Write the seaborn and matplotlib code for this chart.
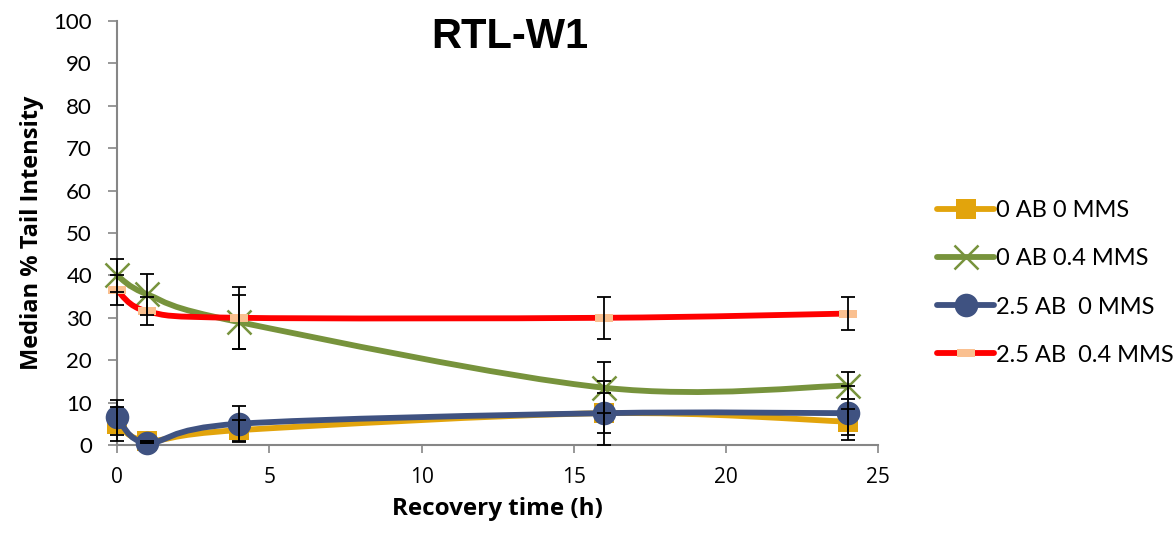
import numpy as np
import pandas as pd
import matplotlib
matplotlib.use('Agg')
import matplotlib.pyplot as plt
import seaborn as sns
from matplotlib.path import Path
from matplotlib.patches import PathPatch
from matplotlib.lines import Line2D

# recovery time (h)
hours = [0, 1, 4, 16, 24]

series_names = ['0 AB 0 MMS', '0 AB 0.4 MMS', '2.5 AB  0 MMS', '2.5 AB  0.4 MMS']

# median % tail intensity
ab0_mms0 = [5.0, 1.0, 3.5, 7.5, 5.5]
ab0_mms04 = [40.0, 35.5, 29.0, 13.5, 14.0]
ab25_mms0 = [6.5, 0.5, 5.0, 7.5, 7.5]
ab25_mms04 = [36.5, 31.5, 30.0, 30.0, 31.0]

# error bars (+/-)
err_ab0_mms0 = [4.0, 0.0, 2.5, 7.5, 3.1]
err_ab0_mms04 = [3.8, 4.9, 6.3, 6.0, 3.2]
err_ab25_mms0 = [4.1, 0.0, 4.2, 4.7, 6.4]
err_ab25_mms04 = [3.5, 3.3, 7.3, 5.0, 3.9]

rows = []
for name, vals, errs in zip(series_names,
                            [ab0_mms0, ab0_mms04, ab25_mms0, ab25_mms04],
                            [err_ab0_mms0, err_ab0_mms04, err_ab25_mms0, err_ab25_mms04]):
    for h, v, e in zip(hours, vals, errs):
        rows.append({'hours': h, 'value': v, 'err': e, 'group': name})
df = pd.DataFrame(rows)

colors = {'0 AB 0 MMS': '#E2A40C', '0 AB 0.4 MMS': '#77933C',
          '2.5 AB  0 MMS': '#3F5281', '2.5 AB  0.4 MMS': '#FF0000'}
dash = Path([(-1, -0.45), (1, -0.45), (1, 0.45), (-1, 0.45), (-1, -0.45)],
            [Path.MOVETO, Path.LINETO, Path.LINETO, Path.LINETO, Path.CLOSEPOLY])
styles = {
    '0 AB 0 MMS': dict(marker='s', ms=15, mfc='#E2A40C', mec='#E2A40C', mew=0),
    '0 AB 0.4 MMS': dict(marker='x', ms=17, mfc='none', mec='#77933C', mew=1.8),
    '2.5 AB  0 MMS': dict(marker='o', ms=17, mfc='#3F5281', mec='#3F5281', mew=0),
    '2.5 AB  0.4 MMS': dict(marker=dash, ms=13, mfc='#FAC090', mec='#FAC090', mew=0),
}

sns.set_style('white')
plt.rcParams['font.family'] = ['Lato', 'DejaVu Sans']
for key in ['text.color', 'axes.labelcolor', 'xtick.color', 'ytick.color']:
    plt.rcParams[key] = 'black'

fig = plt.figure(figsize=(11.75, 5.38), dpi=100)
ax = fig.add_axes([0.0996, 0.1729, 0.648, 0.788])


def smooth_path(x, y):
    # Excel-like smoothed line: catmull-rom segments as cubic beziers
    pts = np.column_stack([x, y]).astype(float)
    verts = [pts[0]]
    codes = [Path.MOVETO]
    n = len(pts)
    for i in range(n - 1):
        p0 = pts[max(i - 1, 0)]
        p1 = pts[i]
        p2 = pts[i + 1]
        p3 = pts[min(i + 2, n - 1)]
        verts += [p1 + (p2 - p0) / 6, p2 - (p3 - p1) / 6, p2]
        codes += [Path.CURVE4] * 3
    return Path(verts, codes)


handles = []
for z, name in enumerate(series_names):
    sub = df[df['group'] == name]
    ax.add_patch(PathPatch(smooth_path(sub['hours'], sub['value']), fill=False,
                           edgecolor=colors[name], lw=4.2, capstyle='round',
                           joinstyle='round', zorder=2 + z, clip_on=False))
    st = styles[name]
    ax.plot(sub['hours'], sub['value'], ls='none', zorder=2.5 + z, clip_on=False, **st)
    eb = ax.errorbar(sub['hours'], sub['value'], yerr=sub['err'], fmt='none',
                     ecolor='black', elinewidth=1.3, capsize=5, capthick=1.3, zorder=10)
    for art in eb.lines[1] + eb.lines[2]:
        art.set_clip_on(False)
    handles.append(Line2D([], [], color=colors[name], lw=4.2, solid_capstyle='round', **st))

ax.set_xlim(0, 25)
ax.set_ylim(0, 100)
ax.set_xticks([0, 5, 10, 15, 20, 25])
ax.set_yticks(range(0, 101, 10))
for lab in ax.get_xticklabels():
    lab.set_family(['Open Sans', 'DejaVu Sans'])
ax.tick_params(axis='x', labelsize=15, length=6, width=1.2, color='#868686',
               direction='out', bottom=True, pad=10)
ax.tick_params(axis='y', labelsize=16, length=6.5, width=1.2, color='#868686',
               direction='out', left=True, pad=11.5)
sns.despine(ax=ax)
for side in ['left', 'bottom']:
    ax.spines[side].set_color('#868686')
    ax.spines[side].set_linewidth(1.5)
    ax.spines[side].set_zorder(1)

ax.set_xlabel('Recovery time (h)', fontsize=17.5, fontweight='bold',
              family=['Open Sans', 'DejaVu Sans'], labelpad=6)
ax.set_ylabel('Median % Tail Intensity', fontsize=17, fontweight='bold',
              family=['Open Sans', 'DejaVu Sans'], labelpad=7)
fig.text(0.434, 0.931, 'RTL-W1', fontsize=30, fontweight='bold',
         family=['Liberation Sans', 'DejaVu Sans'], ha='center', va='center')

ax.legend(handles, series_names, loc='center left', bbox_to_anchor=(1.065, 0.382),
          frameon=False, fontsize=17, handlelength=2.4, handletextpad=0.1,
          labelspacing=1.15, borderaxespad=0)

fig.savefig('out.png', dpi=100)
